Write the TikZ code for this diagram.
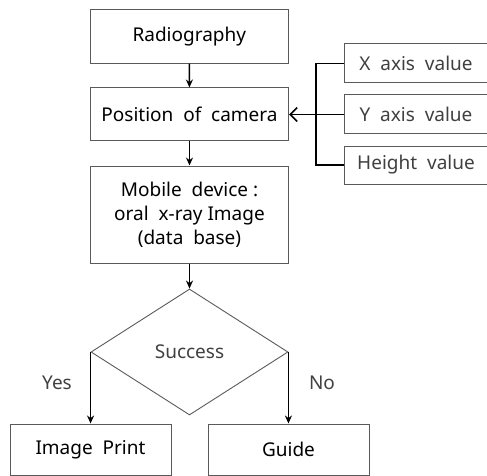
\documentclass[tikz,border=0pt]{standalone}
\usepackage{fontspec}
\setmainfont{Noto Sans}
\usetikzlibrary{arrows.meta,shapes.geometric}
\definecolor{boxgray}{HTML}{5A5A5A}
\definecolor{txtgray}{HTML}{404040}
\begin{document}
\begin{tikzpicture}[x=1pt,y=-1pt,
  box/.style={draw=boxgray, line width=1pt, inner sep=0pt, align=center,
    font=\fontsize{19}{24}\selectfont},
  sidebox/.style={box, text=txtgray, minimum width=144pt},
  conn/.style={draw=black, line width=1.6pt, -{Stealth[length=8pt,width=7pt]}},
  lbl/.style={text=txtgray, font=\fontsize{19}{22}\selectfont}
]
\useasboundingbox (0,0) rectangle (487,476);
\clip (0,0) rectangle (487,476);
\node[box, minimum width=197.5pt, minimum height=53.5pt] (rad) at (189.3,36.3) {Radiography};
\node[box, minimum width=198pt, minimum height=53pt] (pos) at (189.5,114.5) {Position\ \ of\ \ camera};
\node[box, minimum width=198pt, minimum height=97pt] (mob) at (189.5,214.5) {Mobile\ \ device\ :\\oral\ \ x-ray\ Image\\(data\ \ base)};
\node[shape=diamond, draw=boxgray, line width=0.9pt, inner sep=0pt, minimum width=197pt, minimum height=126pt, aspect=1.56, text=txtgray, font=\fontsize{19}{22}\selectfont] (dia) at (189.5,352) {Success};
\node[box, minimum width=161pt, minimum height=51pt] (img) at (90.5,449.5) {Image\ \ Print};
\node[box, minimum width=161pt, minimum height=51pt] (gd) at (288.5,449.5) {Guide};
\node[sidebox, minimum height=39pt] (xb) at (416,63.5) {X\ \ axis\ \ value};
\node[sidebox, minimum height=39pt] (yb) at (416,114.5) {Y\ \ axis\ \ value};
\node[sidebox, minimum height=38pt] (hb) at (416,165) {Height\ \ value};
\coordinate (bx) at (316,0);
\draw[conn] (rad) -- (pos);
\draw[conn] (pos) -- (mob);
\draw[conn] (mob) -- (dia);
\draw[conn] (dia.west) -- (dia.west |- img.north);
\draw[conn] (dia.east) -- (dia.east |- gd.north);
\draw[line width=1.6pt] (xb.west) -- (bx |- xb.west) -- (bx |- hb.west) -- (hb.west);
\draw[line width=1.6pt, -{Straight Barb[length=7pt,width=14pt,line width=1.6pt]}] (yb.west) -- (pos.east);
\node[lbl] (yes) at (57,383) {Yes};
\node[lbl] (no) at (322,383) {No};
\end{tikzpicture}
\end{document}
